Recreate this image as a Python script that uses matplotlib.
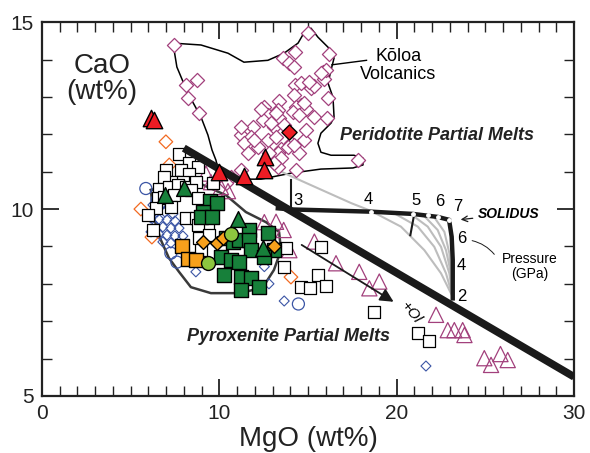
import matplotlib
matplotlib.use("Agg")
import matplotlib.pyplot as plt
from matplotlib.ticker import MultipleLocator

plt.rcParams['font.family'] = ['Liberation Sans', 'DejaVu Sans']

# Koloa volcanics (open maroon diamonds)
koloa_mgo = [7.43, 8.12, 8.74, 8.25, 8.87, 15.00, 14.27, 13.57, 13.95, 14.19, 16.20, 15.83, 15.89,
             14.27, 15.17, 15.34, 14.19, 16.11, 13.38, 12.54, 14.61, 14.32, 14.89, 14.14, 14.51,
             15.36, 16.07, 13.29, 13.38, 12.73, 11.88, 12.45, 13.10, 13.66, 11.22, 11.79, 11.41,
             12.16, 12.73, 13.20, 14.04, 14.79, 13.48, 13.86, 13.29, 14.51, 17.80, 12.35, 13.20,
             14.79, 14.89, 14.23, 12.82, 13.48, 13.29, 14.32, 10.66, 10.38, 11.22, 12.91, 11.96,
             11.60, 13.10, 11.22, 14.61, 15.07, 16.02, 15.73]
koloa_cao = [14.39, 13.32, 13.45, 12.96, 12.57, 14.72, 14.19, 14.03, 13.90, 13.80, 14.14, 13.67, 13.47,
             13.32, 13.25, 13.30, 13.05, 12.96, 12.90, 12.74, 12.78, 12.72, 12.69, 12.60, 12.51,
             12.47, 12.43, 12.65, 12.43, 12.51, 12.20, 12.38, 12.20, 12.25, 11.98, 11.93, 11.76,
             11.67, 11.84, 11.93, 11.76, 11.84, 11.62, 11.67, 11.49, 11.49, 11.31, 12.69, 12.56,
             12.83, 12.11, 11.71, 11.49, 11.36, 11.13, 11.04, 10.86, 10.69, 12.20, 12.29, 11.84,
             11.49, 11.22, 11.04, 13.36, 13.40, 13.72, 13.63]

red_dia_mgo = [13.93]
red_dia_cao = [12.07]

red_tri_mgo = [6.17, 6.32, 10.00, 11.41, 12.58, 12.54]
red_tri_cao = [12.43, 12.39, 10.99, 10.88, 11.39, 11.04]

maroon_tri_mgo = [12.54, 13.20, 13.63, 13.95, 9.53, 10.09, 10.49, 9.25, 15.36, 16.58, 17.89, 19.02,
                  18.46, 22.22, 22.88, 23.25, 23.72, 23.82, 24.94, 25.32, 25.85, 26.26]
maroon_tri_cao = [9.65, 9.66, 9.44, 8.90, 10.72, 10.59, 10.48, 10.95, 9.13, 8.55, 8.32, 8.06,
                  7.88, 7.17, 6.76, 6.76, 6.76, 6.63, 6.01, 5.83, 6.12, 5.96]

white_sq_mgo = [7.74, 8.31, 8.78, 6.99, 7.84, 8.31, 7.37, 7.93, 6.90, 9.63, 6.62, 7.18, 7.65, 8.12,
                8.68, 8.40, 6.52, 6.90, 7.46, 8.78, 6.43, 7.27, 8.12, 8.68, 9.34, 8.78, 6.24, 8.87,
                9.43, 8.97, 5.98, 13.66, 13.76, 15.73, 15.55, 14.61, 15.13, 16.02, 18.71, 21.19, 21.84]
white_sq_cao = [11.46, 11.22, 11.13, 11.04, 11.04, 10.95, 10.73, 10.73, 10.85, 10.69, 10.55, 10.60,
                10.64, 10.60, 10.73, 10.51, 10.29, 10.33, 10.37, 10.29, 10.02, 10.06, 9.75, 9.75,
                9.57, 9.57, 9.44, 9.22, 9.30, 8.90, 9.84, 8.46, 8.95, 8.98, 8.24, 7.92, 7.90, 7.94,
                7.24, 6.69, 6.48]

green_sq_mgo = [9.49, 9.87, 9.06, 8.97, 9.57, 10.38, 10.75, 11.13, 11.69, 11.69, 11.79, 12.73, 13.10,
                10.09, 10.66, 11.13, 10.28, 11.22, 11.79, 12.54, 11.22, 12.24]
green_sq_cao = [10.22, 10.17, 9.93, 9.79, 9.79, 9.22, 9.13, 9.17, 9.44, 9.17, 8.90, 9.35, 8.90,
                8.72, 8.64, 8.59, 8.24, 8.19, 8.15, 8.72, 7.83, 7.91]

green_tri_mgo = [6.96, 8.01, 11.05, 12.46]
green_tri_cao = [10.37, 10.56, 9.73, 8.96]

orange_sq_mgo = [7.92, 8.22, 8.68]
orange_sq_cao = [9.01, 8.66, 8.64]

orange_dia_mgo = [9.08, 9.87, 10.19, 13.07]
orange_dia_cao = [9.13, 9.09, 9.22, 9.00]

lime_mgo = [10.66, 9.38]
lime_cao = [9.33, 8.55]

orange_open_mgo = [6.99, 7.18, 5.58, 6.20, 14.04]
orange_open_cao = [11.80, 11.18, 10.00, 9.25, 8.18]

blue_circ_mgo = [5.86, 6.49, 7.27, 7.61, 14.46]
blue_circ_cao = [10.55, 10.24, 8.82, 8.58, 7.46]

blue_dia_mgo = [6.26, 6.71, 7.16, 6.49, 6.94, 7.39, 6.15, 6.60, 7.05, 7.50, 6.37, 6.82, 7.27, 7.73,
                6.60, 7.05, 7.50, 6.82, 7.27, 6.15, 7.95, 8.68, 12.54, 13.66, 12.80, 21.65]
blue_dia_cao = [10.11, 10.11, 10.05, 9.92, 9.92, 9.87, 9.76, 9.73, 9.71, 9.68, 9.55, 9.52, 9.49, 9.49,
                9.33, 9.30, 9.28, 9.12, 9.09, 9.39, 9.28, 8.32, 8.46, 7.54, 8.00, 5.80]

# field outlines
koloa_field_x = [7.39, 8.97, 10.49, 11.39, 12.74, 13.65, 14.44, 14.77, 15.17, 15.56, 16.30, 16.47,
                 16.30, 16.13, 16.41, 16.47, 16.30, 15.73, 15.56, 15.73, 16.30, 17.59, 18.10, 18.10,
                 17.54, 15.73, 14.04, 12.35, 10.94, 9.98, 9.81, 9.59, 9.36, 8.97, 8.23, 7.61, 7.39]
koloa_field_y = [14.44, 14.39, 14.17, 13.93, 13.98, 14.17, 14.44, 14.71, 14.84, 14.60, 14.25, 14.04,
                 13.72, 13.37, 12.99, 12.46, 12.30, 12.03, 11.76, 11.52, 11.44, 11.44, 11.36, 11.18,
                 11.10, 11.07, 10.96, 10.80, 10.80, 10.99, 11.31, 11.58, 11.98, 12.46, 13.10, 13.80, 14.44]

pyrox_field_x = [6.15, 7.27, 8.97, 10.38, 11.50, 12.63, 13.37, 13.48, 13.08, 12.46, 11.22, 9.53,
                 8.40, 7.73, 7.16, 6.71, 6.26, 6.15]
pyrox_field_y = [10.51, 10.67, 10.67, 10.37, 9.92, 9.65, 9.39, 8.90, 8.37, 7.91, 7.75, 7.75,
                 7.91, 8.32, 8.69, 9.17, 9.84, 10.51]

divider_x = [8.0, 30.0]
divider_y = [11.63, 5.51]

solidus_x = [13.3, 14.04, 18.55, 20.90, 22.31, 22.97, 22.97, 23.10, 23.16, 23.16]
solidus_y = [10.02, 9.99, 9.93, 9.87, 9.79, 9.71, 9.66, 9.26, 8.64, 7.61]
solidus_pts_x = [18.55, 20.90, 21.75, 22.31, 22.97]
solidus_pts_y = [9.93, 9.87, 9.83, 9.79, 9.71]

gray_curves = [
    ([12.91, 14.04, 15.17, 16.30, 17.43, 18.55, 20.24, 21.56, 22.50, 23.16],
     [11.13, 10.88, 10.64, 10.40, 10.16, 9.95, 9.53, 8.90, 8.28, 7.65]),
    ([19.87, 21.19, 22.12, 22.78, 23.16], [9.885, 9.53, 8.99, 8.28, 7.655]),
    ([20.81, 21.75, 22.50, 22.97, 23.16], [9.86, 9.53, 8.99, 8.28, 7.655]),
    ([21.56, 22.31, 22.78, 23.06, 23.16], [9.81, 9.44, 8.90, 8.28, 7.655]),
    ([22.12, 22.69, 22.97, 23.16], [9.78, 9.39, 8.82, 7.655]),
]

pressure_top = ['3', '4', '5', '6', '7']
pressure_top_x = [14.45, 18.40, 21.10, 22.40, 23.45]
pressure_top_y = [10.24, 10.26, 10.24, 10.20, 10.06]
pressure_side = ['6', '4', '2']
pressure_side_x = [23.65, 23.65, 23.65]
pressure_side_y = [9.22, 8.50, 7.65]

fig = plt.figure(figsize=(5.9, 4.53), dpi=100)
ax = fig.add_axes([0.071, 0.126, 0.902, 0.825])
ax.set_xlim(0, 30)
ax.set_ylim(5, 15)

ax.plot(koloa_field_x, koloa_field_y, color='black', lw=1.1, zorder=1)
ax.plot(pyrox_field_x, pyrox_field_y, color='#3a3a3a', lw=1.8, zorder=1)

for gx, gy in gray_curves:
    ax.plot(gx, gy, color='#bdbdbd', lw=1.5, zorder=1)

maroon = '#a2407c'
ax.scatter(koloa_mgo, koloa_cao, marker='D', s=52, facecolors='white', edgecolors=maroon, lw=0.9, zorder=2)
ax.scatter(maroon_tri_mgo, maroon_tri_cao, marker='^', s=120, facecolors='none', edgecolors=maroon, lw=0.9, zorder=2)
ax.scatter(blue_dia_mgo, blue_dia_cao, marker='D', s=26, facecolors='none', edgecolors='#3b55a5', lw=0.8, zorder=2)
ax.scatter(blue_circ_mgo, blue_circ_cao, marker='o', s=75, facecolors='none', edgecolors='#3b55a5', lw=0.9, zorder=2)
ax.scatter(orange_open_mgo, orange_open_cao, marker='D', s=48, facecolors='none', edgecolors='#f26a21', lw=0.9, zorder=2)
ax.scatter(white_sq_mgo, white_sq_cao, marker='s', s=80, facecolors='white', edgecolors='black', lw=0.9, zorder=2)

ax.plot(divider_x, divider_y, color='#1a1a1a', lw=5.5, solid_capstyle='butt', zorder=3)

ax.plot(solidus_x, solidus_y, color='#1a1a1a', lw=3.2, zorder=3)
ax.scatter(solidus_pts_x, solidus_pts_y, marker='o', s=6, color='white', zorder=3.5)
ax.plot([14.04, 14.04], [10.78, 9.99], color='#1a1a1a', lw=1.5, zorder=3)
ax.plot([20.96, 20.77], [9.79, 9.30], color='#1a1a1a', lw=1.5, zorder=3)

ax.scatter(green_sq_mgo, green_sq_cao, marker='s', s=115, color='#17803a', edgecolors='black', lw=1.0, zorder=4)
ax.scatter(green_tri_mgo, green_tri_cao, marker='^', s=130, color='#17803a', edgecolors='black', lw=1.0, zorder=4)
ax.scatter(orange_sq_mgo, orange_sq_cao, marker='s', s=115, color='#f7a01c', edgecolors='black', lw=1.0, zorder=4)
ax.scatter(orange_dia_mgo, orange_dia_cao, marker='D', s=50, color='#f7a01c', edgecolors='black', lw=1.0, zorder=4)
ax.scatter(lime_mgo, lime_cao, marker='o', s=100, color='#8dc63f', edgecolors='black', lw=1.0, zorder=4)
ax.scatter(red_tri_mgo, red_tri_cao, marker='^', s=140, color='#ed1c24', edgecolors='black', lw=1.0, zorder=4)
ax.scatter(red_dia_mgo, red_dia_cao, marker='D', s=60, color='#ed1c24', edgecolors='black', lw=1.0, zorder=4)

# olivine addition vector
ax.annotate('', xy=(19.96, 7.48), xytext=(14.51, 9.08),
            arrowprops=dict(arrowstyle='-|>', color='#1a1a1a', lw=1.3, mutation_scale=20), zorder=3)
ax.text(20.8, 7.25, '+Ol', rotation=-52, ha='center', va='center', fontsize=11, style='italic')

for lab, px, py in zip(pressure_top, pressure_top_x, pressure_top_y):
    ax.text(px, py, lab, ha='center', va='center', fontsize=12)
for lab, px, py in zip(pressure_side, pressure_side_x, pressure_side_y):
    ax.text(px, py, lab, ha='center', va='center', fontsize=12)

ax.annotate('SOLIDUS', xy=(23.45, 9.71), xytext=(24.6, 9.86), ha='left', va='center',
            fontsize=10, fontweight='bold', style='italic',
            arrowprops=dict(arrowstyle='->', color='#1a1a1a', lw=0.9))
ax.text(27.5, 8.46, 'Pressure\n(GPa)', ha='center', va='center', fontsize=10, linespacing=1.1)
ax.annotate('', xy=(24.1, 9.17), xytext=(25.6, 8.73),
            arrowprops=dict(arrowstyle='-', color='#1a1a1a', lw=0.7, connectionstyle='arc3,rad=0.2'))

ax.text(20.1, 13.85, 'K\u014dloa\nVolcanics', ha='center', va='center', fontsize=13, linespacing=1.05)
ax.plot([18.3, 16.35], [13.98, 13.86], color='black', lw=1.0)

ax.text(22.3, 11.98, 'Peridotite Partial Melts', ha='center', va='center', fontsize=13,
        fontweight='bold', style='italic', color='#222222')
ax.text(13.9, 6.60, 'Pyroxenite Partial Melts', ha='center', va='center', fontsize=13,
        fontweight='bold', style='italic', color='#222222')

ax.text(3.4, 13.49, 'CaO\n(wt%)', ha='center', va='center', fontsize=20, linespacing=1.0, color='#222222')
ax.set_xlabel('MgO (wt%)', fontsize=20, labelpad=2, color='#222222')

ax.set_xticks([0, 10, 20, 30])
ax.set_yticks([5, 10, 15])
ax.xaxis.set_minor_locator(MultipleLocator(1))
ax.yaxis.set_minor_locator(MultipleLocator(1))
ax.tick_params(which='both', direction='in', top=True, right=True, labelsize=15, colors='#222222')
ax.tick_params(which='major', length=12, width=1.3, pad=6)
ax.tick_params(which='minor', length=7, width=1.0)
for sp in ax.spines.values():
    sp.set_linewidth(1.6)
    sp.set_color('#222222')

fig.savefig('out.png', dpi=100)
